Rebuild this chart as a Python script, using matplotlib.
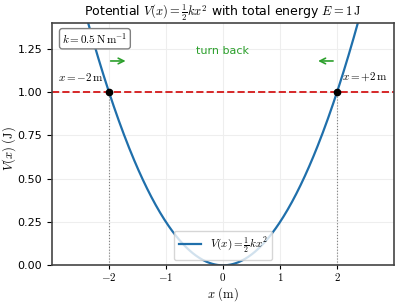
import numpy as np
import matplotlib
matplotlib.use("Agg")
import matplotlib.pyplot as plt

plt.rcParams['mathtext.fontset'] = 'cm'

# Datos del potencial
k = 0.5          # N/m
E = 1.0          # J
x_turn = [-2.0, 2.0]
x_ticks = [-2, -1, 0, 1, 2]
x_tick_labels = [r'$-2$', r'$-1$', r'$0$', r'$1$', r'$2$']
y_ticks = [0.0, 0.25, 0.5, 0.75, 1.0, 1.25]

x = np.linspace(-3, 3, 400)
V = 0.5 * k * x**2

fig, ax = plt.subplots(figsize=(4, 3.05), dpi=100)
ax.plot(x, V, color='#1f6fab', lw=1.6, label=r'$V(x)=\frac{1}{2}kx^2$')
ax.axhline(E, color='#d62728', ls='--', lw=1.4)
for xt in x_turn:
    ax.vlines(xt, 0, E, colors='gray', linestyles=':', lw=0.8)
ax.plot(x_turn, [E, E], 'o', color='black', ms=4.5, zorder=5)

ax.text(-2.9, 1.09, r'$x=-2\,\mathrm{m}$', fontsize=8, ha='left', va='center')
ax.text(2.9, 1.09, r'$x=+2\,\mathrm{m}$', fontsize=8, ha='right', va='center')
ax.text(0, 1.24, 'turn back', color='#2ca02c', fontsize=8, ha='center', va='center')
ax.annotate('', xy=(-1.66, 1.18), xytext=(-2.02, 1.18),
            arrowprops=dict(arrowstyle='->', color='#2ca02c', lw=1.2))
ax.annotate('', xy=(1.62, 1.18), xytext=(1.98, 1.18),
            arrowprops=dict(arrowstyle='->', color='#2ca02c', lw=1.2))
ax.text(0.03, 0.965, r'$k=0.5\,\mathrm{N\,m^{-1}}$', transform=ax.transAxes,
        fontsize=8, ha='left', va='top',
        bbox=dict(boxstyle='round,pad=0.25', fc='white', ec='gray'))

ax.set_xlim(-3, 3)
ax.set_ylim(0, 1.4)
ax.set_xticks(x_ticks)
ax.set_xticklabels(x_tick_labels, fontsize=8)
ax.tick_params(axis='x', pad=1, length=3)
ax.set_yticks(y_ticks)
ax.tick_params(axis='y', labelsize=8)
ax.grid(True, color='#eeeeee', lw=0.8)
ax.set_xlabel(r'$x\ (\mathrm{m})$', fontsize=9, labelpad=2)
ax.set_ylabel(r'$V(x)\ (\mathrm{J})$', fontsize=9)
ax.yaxis.set_label_coords(-0.098, 0.48)
ax.set_title(r'Potential $V(x)=\frac{1}{2}kx^2$ with total energy $E=1\,\mathrm{J}$',
             fontsize=9, pad=5)
for s in ax.spines.values():
    s.set_color('#444444')
    s.set_linewidth(1.2)
ax.legend(loc='lower center', fontsize=8)

plt.subplots_adjust(left=0.13, right=0.985, top=0.925, bottom=0.13)
plt.savefig('out.png')
